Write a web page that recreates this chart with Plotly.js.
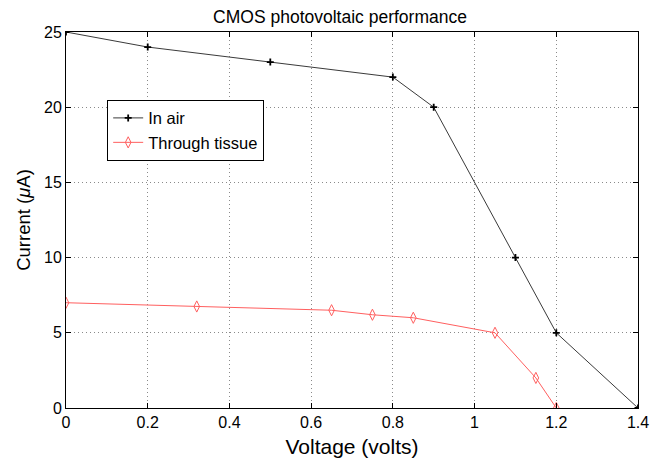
<!DOCTYPE html>
<html><head><meta charset="utf-8">
<script src="https://cdn.plot.ly/plotly-3.0.1.min.js"></script>
<style>html,body{margin:0;padding:0;background:#fff;}#chart{width:659px;height:463px;}</style>
</head><body><div id="chart"></div>
<script>
const airV = [0, 0.2, 0.5, 0.8, 0.9, 1.1, 1.2, 1.4];
const airI = [25, 24, 23, 22, 20, 10, 5, 0];
const tissueV = [0, 0.32, 0.65, 0.75, 0.85, 1.05, 1.15, 1.2];
const tissueI = [7, 6.75, 6.5, 6.2, 6.0, 5, 2, 0];
const xTicks = [0, 0.2, 0.4, 0.6, 0.8, 1, 1.2, 1.4];
const xTickText = ['0', '0.2', '0.4', '0.6', '0.8', '1', '1.2', '1.4'];
const yTicks = [0, 5, 10, 15, 20, 25];

const font = 'Liberation Sans, Arial, Helvetica, sans-serif';
const traces = [
  {x: airV, y: airI, name: 'In air', mode: 'lines+markers', type: 'scatter',
   line: {color: '#3a3a3a', width: 1}, marker: {symbol: 'cross-thin', size: 5, color: '#000', line: {color: '#000', width: 1.8}}},
  {x: tissueV, y: tissueI, name: 'Through tissue', mode: 'lines+markers', type: 'scatter',
   line: {color: '#ff5f5f', width: 1}, marker: {symbol: 'diamond-tall-open', size: 8, color: '#ff5f5f', line: {color: '#ff5f5f', width: 1}}}
];
const axisCommon = {
  showline: true, mirror: 'ticks', linecolor: '#000', linewidth: 1,
  ticks: 'inside', ticklen: 5, tickcolor: '#000',
  showgrid: true, gridcolor: '#8a8a8a', griddash: '1px,3px', gridwidth: 1,
  zeroline: false, tickfont: {family: font, size: 16, color: '#000'}
};
const layout = {
  width: 659, height: 463,
  margin: {l: 66, r: 21, t: 32, b: 55},
  paper_bgcolor: '#fff', plot_bgcolor: '#fff',
  title: {text: 'CMOS photovoltaic performance', font: {family: font, size: 17.5, color: '#000'}, x: 0.516, xanchor: 'center', y: 0.963, yanchor: 'middle'},
  xaxis: Object.assign({}, axisCommon, {range: [0, 1.4], tickvals: xTicks, ticktext: xTickText,
    title: {text: 'Voltage (volts)', font: {family: font, size: 21, color: '#000'}, standoff: 9}}),
  yaxis: Object.assign({}, axisCommon, {range: [0, 25], tickvals: yTicks,
    title: {text: 'Current (<i>μ</i>A)', font: {family: font, size: 18.5, color: '#000'}, standoff: 8}}),
  legend: {x: 0.072, y: 0.82, xanchor: 'left', yanchor: 'top', bgcolor: '#fff', bordercolor: '#000', borderwidth: 1,
    font: {family: font, size: 16.5, color: '#000'}, tracegroupgap: 0, itemwidth: 30},
  showlegend: true
};
Plotly.newPlot('chart', traces, layout, {displayModeBar: false});
</script></body></html>
